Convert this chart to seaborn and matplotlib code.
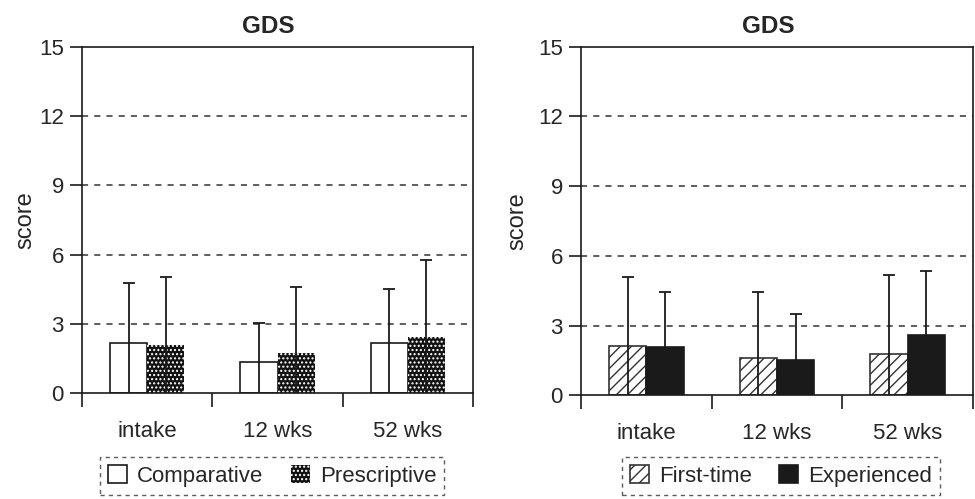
import matplotlib
matplotlib.use("Agg")
import matplotlib.pyplot as plt
from matplotlib.patches import Patch
import numpy as np
import pandas as pd
import seaborn as sns

# ---------------- data ----------------
timepoints = ["intake", "12 wks", "52 wks"]

left_groups = ["Comparative", "Prescriptive"]
comparative_mean = [2.16, 1.37, 2.16]
comparative_sd = [2.61, 1.69, 2.34]
prescriptive_mean = [2.08, 1.73, 2.44]
prescriptive_sd = [2.97, 2.87, 3.33]

right_groups = ["First-time", "Experienced"]
firsttime_mean = [2.14, 1.59, 1.79]
firsttime_sd = [2.97, 2.87, 3.39]
experienced_mean = [2.07, 1.53, 2.61]
experienced_sd = [2.39, 1.97, 2.75]

panel_title = "GDS"
y_label = "score"
y_ticks = [0, 3, 6, 9, 12, 15]

# ---------------- style ----------------
sns.set_theme(style="white")
plt.rcParams["font.family"] = ["Liberation Sans", "DejaVu Sans"]
plt.rcParams["hatch.linewidth"] = 1.0

DARK = "#1a1a1a"
styles = {
    "Comparative": dict(facecolor="white", edgecolor=DARK, hatch=None, lw=1.2),
    "Prescriptive": dict(facecolor="#111111", edgecolor="white", hatch="....", lw=0),
    "First-time": dict(facecolor="white", edgecolor="#333333", hatch="///", lw=1.2),
    "Experienced": dict(facecolor=DARK, edgecolor=DARK, hatch=None, lw=1.2),
}

TICK_FS = 16
fig = plt.figure(figsize=(9.75, 4.99), dpi=100)
ax_l = fig.add_axes([82 / 975, 1 - 393.3 / 499, 391 / 975, 346.6 / 499])
ax_r = fig.add_axes([581 / 975, 1 - 395.3 / 499, 392 / 975, 348.6 / 499])


def draw_panel(ax, groups, means, sds, ylabelpad, leg_x):
    df = pd.DataFrame({
        "time": timepoints * 2,
        "group": [groups[0]] * 3 + [groups[1]] * 3,
        "mean": list(means[0]) + list(means[1]),
    })
    sns.barplot(data=df, x="time", y="mean", hue="group", hue_order=groups,
                order=timepoints, ax=ax, width=0.57, errorbar=None,
                palette=["white", "white"], legend=False, zorder=2)
    for gi, cont in enumerate(ax.containers):
        st = styles[groups[gi]]
        for bi, bar in enumerate(cont):
            bar.set_facecolor(st["facecolor"])
            bar.set_edgecolor(st["edgecolor"])
            bar.set_linewidth(st["lw"])
            if st["hatch"]:
                bar.set_hatch(st["hatch"])
            xc = bar.get_x() + bar.get_width() / 2
            m = means[gi][bi]
            s = sds[gi][bi]
            ax.vlines(xc, 0, m + s, color=DARK, lw=1.3, zorder=3)
            ax.plot([xc], [m + s], marker="_", markersize=9,
                    markeredgewidth=1.3, color=DARK, zorder=3)

    ax.set_ylim(0, 15)
    ax.set_xlim(-0.5, 2.5)
    ax.set_yticks(y_ticks)
    ax.set_yticklabels([str(t) for t in y_ticks], fontsize=TICK_FS)
    ax.set_xticks([-0.5, 0.5, 1.5, 2.5])
    ax.set_xticklabels([])
    ax.set_xticks([0, 1, 2], minor=True)
    ax.set_xticklabels(timepoints, minor=True, fontsize=TICK_FS)
    ax.tick_params(axis="x", which="major", direction="out", length=10,
                   width=1.2, color=DARK, bottom=True)
    ax.tick_params(axis="x", which="minor", length=0, pad=20)
    ax.tick_params(axis="y", direction="out", length=9, width=1.2,
                   color=DARK, left=True, pad=4)
    for y in y_ticks[1:-1]:
        ax.axhline(y, color="#333333", lw=1.1, ls=(0, (4, 4)), zorder=1)
    for sp in ax.spines.values():
        sp.set_visible(True)
        sp.set_color(DARK)
        sp.set_linewidth(1.2)
    ax.set_xlabel("")
    ax.set_ylabel(y_label, fontsize=17, labelpad=ylabelpad)
    ax.set_title(panel_title, fontsize=17.5, fontweight="bold", pad=10,
                 x=0.477)

    handles = []
    for g in groups:
        st = styles[g]
        handles.append(Patch(facecolor=st["facecolor"],
                             edgecolor=st["edgecolor"],
                             hatch=st["hatch"], linewidth=st["lw"],
                             label=g))
    leg = ax.legend(handles=handles, loc="upper center",
                    bbox_to_anchor=(leg_x / 975, 1 - 457 / 499),
                    bbox_transform=fig.transFigure, ncol=2, frameon=True,
                    fancybox=False, fontsize=16, handlelength=0.85,
                    handleheight=0.85, handletextpad=0.45, columnspacing=1.25,
                    borderpad=0.36, borderaxespad=0)
    fr = leg.get_frame()
    fr.set_edgecolor("#333333")
    fr.set_linestyle((0, (3, 3)))
    fr.set_linewidth(1.0)


draw_panel(ax_l, left_groups, [comparative_mean, prescriptive_mean],
           [comparative_sd, prescriptive_sd], 2, 272)
draw_panel(ax_r, right_groups, [firsttime_mean, experienced_mean],
           [firsttime_sd, experienced_sd], 7, 781)

fig.savefig("out.png", dpi=100, facecolor="white")
